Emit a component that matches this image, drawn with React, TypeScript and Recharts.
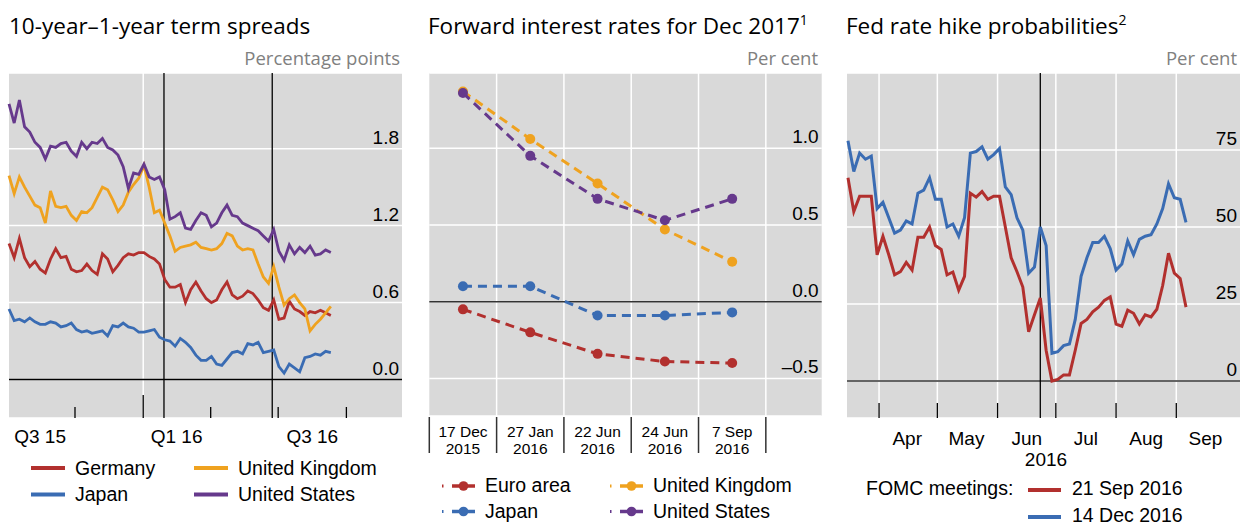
import { LineChart, Line, XAxis, YAxis, CartesianGrid, ReferenceLine } from "recharts";

const SANS = "'Liberation Sans', Arial, sans-serif";
const TITLE_FONT = "'Open Sans', 'Noto Sans', sans-serif";

const RED = "#B2302E";
const ORANGE = "#EFA21F";
const BLUE = "#3A6CB3";
const PURPLE = "#66398C";
const PLOT_BG = "#D9D9D9";

// ---- Panel 1: 10-year–1-year term spreads (weekly, days after 1 Jul 2015)
const SPREAD_START_DAY = 3;
const SPREAD_STEP = 7;
const germanySpread = [
  1.06, 0.95, 1.1, 0.95, 0.88, 0.92, 0.86, 0.83, 0.94, 1.02,
  0.95, 0.96, 0.86, 0.84, 0.85, 0.9, 0.85, 0.82, 0.98, 0.94,
  0.84, 0.89, 0.95, 0.98, 0.97, 0.99, 0.99, 0.96, 0.94, 0.9,
  0.78, 0.72, 0.72, 0.74, 0.6, 0.7, 0.76, 0.69, 0.63, 0.6,
  0.62, 0.7, 0.76, 0.66, 0.63, 0.65, 0.69, 0.67, 0.62, 0.56,
  0.54, 0.62, 0.47, 0.48, 0.61, 0.55, 0.53, 0.5, 0.53, 0.52,
  0.54, 0.52, 0.5,
];
const japanSpread = [
  0.55, 0.46, 0.47, 0.45, 0.48, 0.45, 0.43, 0.43, 0.45, 0.44,
  0.41, 0.42, 0.44, 0.39, 0.37, 0.38, 0.36, 0.37, 0.38, 0.34,
  0.42, 0.41, 0.44, 0.41, 0.4, 0.37, 0.37, 0.38, 0.39, 0.33,
  0.31, 0.3, 0.26, 0.32, 0.29, 0.25, 0.19, 0.15, 0.15, 0.18,
  0.12, 0.11, 0.16, 0.21, 0.22, 0.2, 0.28, 0.27, 0.29, 0.21,
  0.22, 0.23, 0.1, 0.05, 0.12, 0.09, 0.06, 0.17, 0.18, 0.2,
  0.19, 0.22, 0.21,
];
const ukSpread = [
  1.59, 1.45, 1.58, 1.5, 1.43, 1.36, 1.34, 1.22, 1.47, 1.35,
  1.34, 1.35, 1.28, 1.24, 1.31, 1.3, 1.34, 1.42, 1.5, 1.48,
  1.4, 1.31, 1.36, 1.46, 1.52, 1.57, 1.67, 1.5, 1.3, 1.32,
  1.22, 1.12, 1.0, 1.03, 1.04, 1.05, 1.07, 1.03, 1.02, 1.01,
  1.02, 1.06, 1.14, 1.12, 1.04, 1.01, 1.02, 1.01, 0.9, 0.8,
  0.75, 0.88, 0.72, 0.58, 0.63, 0.66, 0.6, 0.55, 0.38, 0.43,
  0.47, 0.52, 0.57,
];
const usSpread = [
  2.15, 2.0, 2.18, 1.97, 1.93, 1.85, 1.81, 1.72, 1.82, 1.81,
  1.84, 1.85, 1.78, 1.74, 1.85, 1.8, 1.85, 1.84, 1.88, 1.81,
  1.79, 1.75, 1.66, 1.49, 1.61, 1.6, 1.68, 1.58, 1.56, 1.58,
  1.48, 1.25, 1.27, 1.3, 1.18, 1.17, 1.24, 1.3, 1.28, 1.19,
  1.22, 1.3, 1.36, 1.28, 1.27, 1.22, 1.2, 1.18, 1.16, 1.12,
  1.08, 1.17, 1.0, 0.93, 1.05, 0.98, 1.03, 0.99, 1.04, 0.97,
  0.98, 1.01, 0.99,
];
const spreadYTicks = [0, 0.6, 1.2, 1.8];
const quarterStarts = [92, 184, 275, 366, 458];
const YEAR_START = 184;
const quarterLabels = [
  { day: 45, label: "Q3 15" },
  { day: 229, label: "Q1 16" },
  { day: 412, label: "Q3 16" },
];
const spreadEvents = [212, 358];

// ---- Panel 2: forward interest rates for Dec 2017
const forwardDates = [
  ["17 Dec", "2015"],
  ["27 Jan", "2016"],
  ["22 Jun", "2016"],
  ["24 Jun", "2016"],
  ["7 Sep", "2016"],
];
const euroForward = [-0.05, -0.2, -0.34, -0.39, -0.4];
const japanForward = [0.1, 0.1, -0.09, -0.09, -0.07];
const ukForward = [1.37, 1.06, 0.77, 0.47, 0.26];
const usForward = [1.36, 0.95, 0.67, 0.53, 0.67];
const forwardYTicks = [-0.5, 0, 0.5, 1.0];

// ---- Panel 3: Fed rate hike probabilities (every 3 days, day of year 2016)
const HIKE_START_DOY = 76;
const HIKE_STEP = 3;
const sep2016Prob = [
  66, 55, 60, 60, 60, 41, 47, 41, 34.5, 35.5,
  38.5, 36, 46.7, 46.7, 50, 44, 42.7, 34.5, 35.4, 29.5,
  34, 61, 59.7, 61.5, 59, 60, 60, 50, 40, 35.5,
  30.5, 16, 21.5, 27, 10, 0, 0.5, 2, 2, 10,
  18.7, 20, 22.5, 24, 26.2, 27.3, 18.5, 17.8, 23, 22,
  18.5, 21.5, 20.8, 23.3, 31, 41.5, 35, 33.3, 24,
];
const dec2016Prob = [
  78, 68, 74, 72, 73, 56, 58, 53, 48, 49,
  52, 51, 61, 62, 66, 59, 59, 50, 51, 47,
  53, 74, 74.5, 76, 72, 73.5, 75.5, 63, 60.5, 53,
  49, 35, 37, 50, 44, 9, 9.5, 11.5, 12, 20,
  34, 40, 45, 45, 47, 43, 36, 38, 45.5, 41,
  46, 47, 47.5, 51, 56, 64, 59.5, 59, 51.5,
];
const hikeYTicks = [0, 25, 50, 75];
const monthStarts = [92, 122, 153, 183, 214, 245];
const monthLabels = [
  { doy: 106.5, label: "Apr" },
  { doy: 137, label: "May" },
  { doy: 168, label: "Jun" },
  { doy: 198.5, label: "Jul" },
  { doy: 229.5, label: "Aug" },
  { doy: 260, label: "Sep" },
];
const BREXIT_DOY = 175;

const spreadSeries = [
  { key: "germany", name: "Germany", color: RED, values: germanySpread },
  { key: "japan", name: "Japan", color: BLUE, values: japanSpread },
  { key: "uk", name: "United Kingdom", color: ORANGE, values: ukSpread },
  { key: "us", name: "United States", color: PURPLE, values: usSpread },
];
const forwardSeries = [
  { key: "euro", name: "Euro area", color: RED, values: euroForward },
  { key: "japan", name: "Japan", color: BLUE, values: japanForward },
  { key: "uk", name: "United Kingdom", color: ORANGE, values: ukForward },
  { key: "us", name: "United States", color: PURPLE, values: usForward },
];
const hikeSeries = [
  { key: "sep", name: "21 Sep 2016", color: RED, values: sep2016Prob },
  { key: "dec", name: "14 Dec 2016", color: BLUE, values: dec2016Prob },
];

const spreadRows = germanySpread.map((_, i) => {
  const row: Record<string, number> = { day: SPREAD_START_DAY + i * SPREAD_STEP };
  spreadSeries.forEach((s) => (row[s.key] = s.values[i]));
  return row;
});
const forwardRows = forwardDates.map((_, i) => {
  const row: Record<string, number> = { idx: i };
  forwardSeries.forEach((s) => (row[s.key] = s.values[i]));
  return row;
});
const hikeRows = sep2016Prob.map((_, i) => {
  const row: Record<string, number> = { doy: HIKE_START_DOY + i * HIKE_STEP };
  hikeSeries.forEach((s) => (row[s.key] = s.values[i]));
  return row;
});

const rightTick = (fmt: (v: number) => string) => (props: any) => (
  <text
    x={props.x - 3}
    y={props.y - 5}
    textAnchor="end"
    fontSize={19}
    fontFamily={SANS}
    fill="#000"
  >
    {fmt(props.payload.value)}
  </text>
);

const fmtDec = (v: number) => (v < 0 ? "\u2013" + Math.abs(v).toFixed(1) : v.toFixed(1));

function QuarterTick(props: any) {
  const { x, y, payload } = props;
  const lab = quarterLabels.find((q) => q.day === payload.value);
  if (lab) {
    return (
      <text x={x} y={y + 25} textAnchor="middle" fontSize={19} fontFamily={SANS} fill="#000">
        {lab.label}
      </text>
    );
  }
  const len = payload.value === YEAR_START ? 23 : 11;
  return <line x1={x} x2={x} y1={y - len} y2={y} stroke="#000" strokeWidth={1.3} />;
}

function DateTick(props: any) {
  const { x, y, payload } = props;
  const v = payload.value;
  if (Number.isInteger(v)) {
    const [d, yr] = forwardDates[v];
    return (
      <text textAnchor="middle" fontSize={15.5} fontFamily={SANS} fill="#000">
        <tspan x={x} y={y + 21}>{d}</tspan>
        <tspan x={x} y={y + 38}>{yr}</tspan>
      </text>
    );
  }
  return <line x1={x} x2={x} y1={y + 1} y2={y + 37} stroke="#333" strokeWidth={1.5} />;
}

function MonthTick(props: any) {
  const { x, y, payload } = props;
  const lab = monthLabels.find((m) => m.doy === payload.value);
  if (lab) {
    return (
      <text x={x} y={y + 27} textAnchor="middle" fontSize={19} fontFamily={SANS} fill="#000">
        {lab.label}
      </text>
    );
  }
  return <line x1={x} x2={x} y1={y - 15} y2={y} stroke="#000" strokeWidth={1.3} />;
}

function Overlay() {
  const legendText = { fontSize: 19.5, fontFamily: SANS, fill: "#000" };
  return (
    <svg
      width={1240}
      height={524}
      style={{ position: "absolute", left: 0, top: 0, pointerEvents: "none" }}
    >
      <g fontFamily={TITLE_FONT} fontSize={22.5} fill="#000">
        <text x={9} y={34}>10-year–1-year term spreads</text>
        <text x={428} y={34}>
          Forward interest rates for Dec 2017
          <tspan fontSize={14} dy={-9}>1</tspan>
        </text>
        <text x={846} y={34}>
          Fed rate hike probabilities
          <tspan fontSize={14} dy={-9}>2</tspan>
        </text>
      </g>
      <g fontFamily={TITLE_FONT} fontSize={18.5} fill="#808080" textAnchor="end">
        <text x={400} y={65}>Percentage points</text>
        <text x={818} y={65}>Per cent</text>
        <text x={1237} y={65}>Per cent</text>
      </g>

      {spreadSeries.map((s, i) => {
        const lx = i < 2 ? 31 : 194;
        const ly = i % 2 === 0 ? 468 : 494.5;
        return (
          <g key={s.key}>
            <line x1={lx} x2={lx + 34} y1={ly} y2={ly} stroke={s.color} strokeWidth={4} />
            <text x={lx + 44} y={ly + 6.5} {...legendText}>{s.name}</text>
          </g>
        );
      })}

      {forwardSeries.map((s, i) => {
        const lx = i < 2 ? 442 : 610;
        const ly = i % 2 === 0 ? 486 : 511.5;
        return (
          <g key={s.key}>
            <line x1={lx} x2={lx + 1.5} y1={ly} y2={ly} stroke={s.color} strokeWidth={3} />
            <line x1={lx + 10} x2={lx + 33} y1={ly} y2={ly} stroke={s.color} strokeWidth={3.5} />
            <circle cx={lx + 21.5} cy={ly} r={4.8} fill={s.color} />
            <text x={lx + 43} y={ly + 6} {...legendText}>{s.name}</text>
          </g>
        );
      })}

      <text x={1046} y={466} textAnchor="middle" fontSize={19} fontFamily={SANS}>2016</text>
      <text x={866} y={494.5} {...legendText}>FOMC meetings:</text>
      {hikeSeries.map((s, i) => {
        const ly = 490 + i * 27;
        return (
          <g key={s.key}>
            <line x1={1028} x2={1061} y1={ly} y2={ly} stroke={s.color} strokeWidth={4} />
            <text x={1072} y={ly + 4.5} {...legendText}>{s.name}</text>
          </g>
        );
      })}
    </svg>
  );
}

export default function App() {
  return (
    <div
      style={{
        position: "absolute",
        left: 0,
        top: 0,
        width: 1240,
        height: 524,
        background: "#fff",
        overflow: "hidden",
      }}
    >
      <div style={{ position: "absolute", left: 0, top: 0 }}>
        <LineChart width={420} height={470} data={spreadRows} margin={{ top: 73, right: 18, bottom: 0, left: 9 }}>
          <CartesianGrid vertical={false} stroke="#fff" strokeWidth={1.5} fill={PLOT_BG} />
          <XAxis
            type="number"
            dataKey="day"
            domain={[3.4, 533]}
            ticks={[...quarterStarts, ...quarterLabels.map((q) => q.day)].sort((a, b) => a - b)}
            interval={0}
            height={52}
            tickSize={0}
            tickMargin={0}
            axisLine={false}
            tickLine={false}
            tick={QuarterTick}
          />
          <YAxis
            orientation="right"
            mirror
            domain={[-0.3, 2.39]}
            ticks={spreadYTicks}
            interval={0}
            tickSize={0}
            tickMargin={0}
            axisLine={false}
            tickLine={false}
            tick={rightTick((v) => v.toFixed(1))}
          />
          <ReferenceLine x={YEAR_START} stroke="#fff" strokeWidth={1.5} />
          <ReferenceLine y={0} stroke="#000" strokeWidth={1.5} />
          {spreadEvents.map((d) => (
            <ReferenceLine key={d} x={d} stroke="#000" strokeWidth={1.3} />
          ))}
          {spreadSeries.map((s) => (
            <Line
              key={s.key}
              dataKey={s.key}
              stroke={s.color}
              strokeWidth={2.8}
              dot={false}
              type="linear"
              isAnimationActive={false}
            />
          ))}
        </LineChart>
      </div>

      <div style={{ position: "absolute", left: 420, top: 0 }}>
        <LineChart width={420} height={470} data={forwardRows} margin={{ top: 73, right: 18.3, bottom: 0, left: 9.3 }}>
          <CartesianGrid vertical={false} stroke="#fff" strokeWidth={1.5} fill={PLOT_BG} />
          <XAxis
            type="number"
            dataKey="idx"
            domain={[-0.5, 5.33]}
            ticks={[-0.5, 0, 0.5, 1, 1.5, 2, 2.5, 3, 3.5, 4, 4.5]}
            interval={0}
            height={54}
            tickSize={0}
            tickMargin={0}
            axisLine={false}
            tickLine={false}
            tick={DateTick}
          />
          <YAxis
            orientation="right"
            mirror
            domain={[-0.745, 1.49]}
            ticks={forwardYTicks}
            interval={0}
            tickSize={0}
            tickMargin={0}
            axisLine={false}
            tickLine={false}
            tick={rightTick(fmtDec)}
          />
          {forwardDates.map((_, i) => (
            <ReferenceLine key={i} x={i + 0.5} stroke="#fff" strokeWidth={1.5} />
          ))}
          <ReferenceLine y={0} stroke="#333" strokeWidth={1.5} />
          {forwardSeries.map((s) => (
            <Line
              key={s.key}
              dataKey={s.key}
              stroke={s.color}
              strokeWidth={3}
              strokeDasharray="9 6"
              dot={{ r: 5, fill: s.color, stroke: "none", strokeWidth: 0 }}
              type="linear"
              isAnimationActive={false}
            />
          ))}
        </LineChart>
      </div>

      <div style={{ position: "absolute", left: 838, top: 0 }}>
        <LineChart width={402} height={470} data={hikeRows} margin={{ top: 73, right: 0, bottom: 0, left: 9 }}>
          <CartesianGrid vertical={false} stroke="#fff" strokeWidth={1.5} fill={PLOT_BG} />
          <XAxis
            type="number"
            dataKey="doy"
            domain={[75.5, 277.8]}
            ticks={[...monthStarts, ...monthLabels.map((m) => m.doy)].sort((a, b) => a - b)}
            interval={0}
            height={52}
            tickSize={0}
            tickMargin={0}
            axisLine={false}
            tickLine={false}
            tick={MonthTick}
          />
          <YAxis
            orientation="right"
            mirror
            domain={[-12, 100]}
            ticks={hikeYTicks}
            interval={0}
            tickSize={0}
            tickMargin={0}
            axisLine={false}
            tickLine={false}
            tick={rightTick((v) => String(v))}
          />
          {monthStarts.map((d) => (
            <ReferenceLine key={d} x={d} stroke="#fff" strokeWidth={1.5} />
          ))}
          <ReferenceLine y={0} stroke="#333" strokeWidth={1.5} />
          <ReferenceLine x={BREXIT_DOY} stroke="#000" strokeWidth={1.3} />
          {hikeSeries.map((s) => (
            <Line
              key={s.key}
              dataKey={s.key}
              stroke={s.color}
              strokeWidth={3}
              dot={false}
              type="linear"
              isAnimationActive={false}
            />
          ))}
        </LineChart>
      </div>

      <Overlay />
    </div>
  );
}
